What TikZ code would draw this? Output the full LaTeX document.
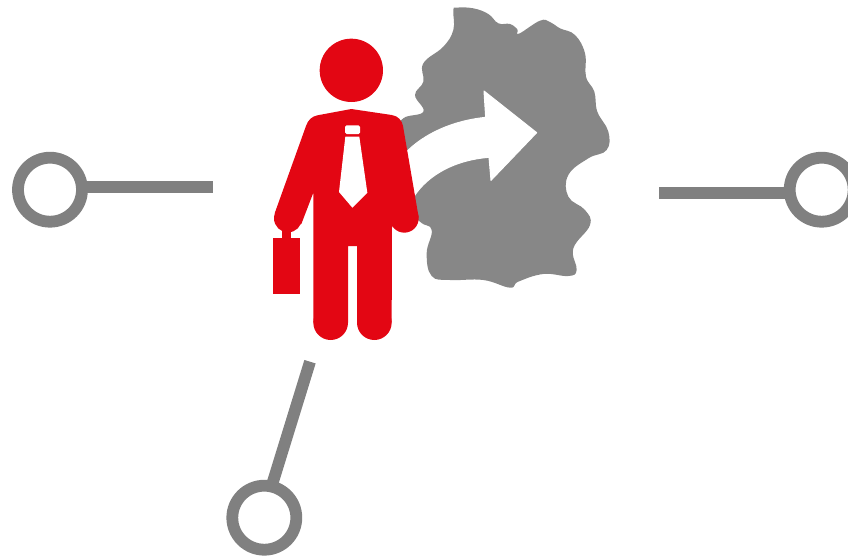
\documentclass[tikz,border=0pt]{standalone}
\definecolor{mapgray}{HTML}{878787}
\definecolor{linegray}{HTML}{808080}
\definecolor{manred}{HTML}{E30613}
\tikzset{
  ring/.style={circle,draw=linegray,line width=11.8pt,fill=white,minimum size=64pt,inner sep=0pt,outer sep=0pt},
  spoke/.style={draw=linegray,line width=11.8pt},
  icon/.style={xshift=260pt,x=0.33333pt,y=-0.33333pt},
}
\begin{document}
\begin{tikzpicture}[x=1pt,y=-1pt]
\useasboundingbox (0,0) rectangle (848,557);
\clip (0,0) rectangle (848,557);
% rings and spokes
\node[ring] (left) at (50,189.7) {};
\node[ring] (right) at (821.7,189.7) {};
\node[ring] (bottom) at (264.3,517.7) {};
\coordinate (leftend) at (213,186.7);
\coordinate (rightend) at (659,192.7);
\coordinate (bottomend) at (310,361.7);
\draw[spoke] (left.east |- leftend) -- (leftend);
\draw[spoke] (right.west |- rightend) -- (rightend);
\draw[spoke] (bottom.77) -- (bottomend);
\begin{scope}[icon]
% map
\fill[mapgray] plot[smooth cycle,tension=0.7] coordinates {
 (580,32) (590,23) (640,25) (685,42) (715,70) (750,72) (772,88) (777,101)
 (840,62) (870,66) (900,85) (945,105) (975,160) (978,230) (1003,275)
 (1012,335) (1045,395) (1040,450) (985,475) (925,525) (925,590) (975,630)
 (990,675) (940,745) (950,810) (925,828) (850,822) (775,845) (750,863)
 (670,840) (570,840) (515,828) (500,760) (515,690) (480,665) (420,600)
 (420,400) (430,355) (490,335) (465,285) (490,245) (490,190) (550,140)
 (580,90)};
% white arrow
\fill[white,draw=white,line width=1pt,line join=round]
 (830,398) -- (672,273) -- (677,352)
 .. controls (580,362) and (490,400) .. (430,465)
 -- (450,610)
 .. controls (490,530) and (580,480) .. (687,472)
 -- (693,541) -- cycle;
% briefcase
\fill[manred] (40,714) rectangle (120,883);
\fill[manred] (66,680) rectangle (92,714);
% man
\fill[manred] (274,211) circle[radius=95];
\fill[manred] (84,655) circle[radius=42];
\fill[manred] (433,655) circle[radius=43];
\fill[manred] (212,968) circle[radius=52];
\fill[manred] (343,968) circle[radius=52];
\fill[manred]
 (274,327) -- (395,345)
 .. controls (415,348) and (426,362) .. (429,378)
 -- (476,652) -- (396,680) -- (395,968) -- (291,968) -- (291,738)
 -- (264,738) -- (264,968) -- (160,968) -- (160,578) -- (124,672)
 -- (44,640) -- (138,378)
 .. controls (144,360) and (156,349) .. (172,346)
 -- cycle;
% tie
\fill[white,rounded corners=1.5pt] (255,376) rectangle (300,402);
\fill[white] (256,410) -- (298,410) -- (322,578) -- (277,623) -- (237,576) -- cycle;
\end{scope}
\end{tikzpicture}
\end{document}
